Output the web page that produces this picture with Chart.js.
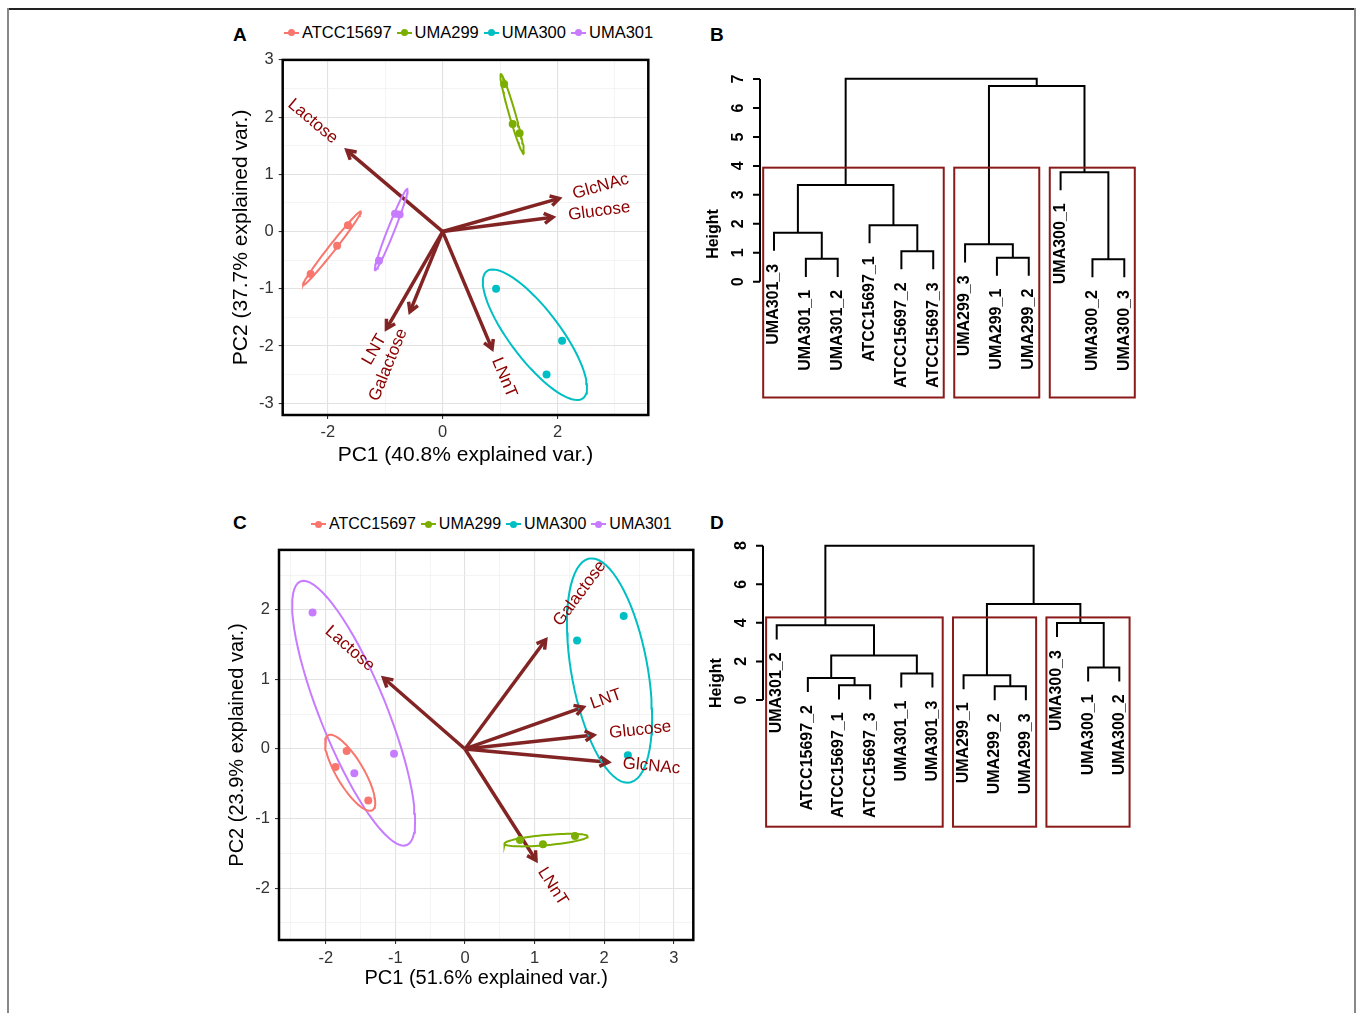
<!DOCTYPE html>
<html>
<head>
<meta charset="utf-8">
<script src="https://cdn.jsdelivr.net/npm/chart.js@4.4.1/dist/chart.umd.min.js"></script>
<style>
  body { margin: 0; background: #fff; font-family: "Liberation Sans", Arial, sans-serif; }
  #page { position: relative; width: 1360px; height: 1013px; overflow: hidden; background: #fff; }
  #page canvas { position: absolute; }
  .frame-top { position: absolute; left: 8px; top: 8px; width: 1347px; height: 1.5px; background: #222; }
  .frame-side { position: absolute; top: 8px; width: 1.5px; height: 1010px; background: #888; }
  .tag { position: absolute; font-weight: bold; font-size: 19px; color: #000; }
  .legend { position: absolute; display: flex; align-items: center; color: #000; white-space: nowrap; }
  .legend .key { display: inline-block; position: relative; width: 15px; height: 16px; margin-right: 3px; }
  .legend .key::before { content: ''; position: absolute; left: 0; right: 0; top: 7px; height: 2px; background: var(--c); }
  .legend .key::after { content: ''; position: absolute; left: 4px; top: 4.5px; width: 7px; height: 7px; border-radius: 50%; background: var(--c); }
  .legend .name { margin-right: 5px; }
</style>
</head>
<body>
<div id="page">
  <div class="frame-top"></div>
  <div class="frame-side" style="left:7px"></div>
  <div class="frame-side" style="left:1354px"></div>

  <div class="tag" style="left:233px;top:24px">A</div>
  <div class="tag" style="left:710px;top:24px">B</div>
  <div class="tag" style="left:233px;top:512px">C</div>
  <div class="tag" style="left:710px;top:512px">D</div>

  <div class="legend" id="legendA" style="left:284px;top:23px;font-size:16.5px"></div>
  <div class="legend" id="legendC" style="left:311px;top:515px;font-size:16px"></div>

  <canvas id="chartA" width="436" height="435" style="left:222px;top:45px"></canvas>
  <canvas id="chartB" width="450" height="350" style="left:700px;top:60px"></canvas>
  <canvas id="chartC" width="485" height="470" style="left:218px;top:535px"></canvas>
  <canvas id="chartD" width="450" height="310" style="left:700px;top:530px"></canvas>
</div>

<script>
// --- data ---
const groupNames = ['ATCC15697', 'UMA299', 'UMA300', 'UMA301'];
const groupColors = ['#F8766D', '#7CAE00', '#00BFC4', '#C77CFF'];
const varNames = ['Lactose', 'GlcNAc', 'Glucose', 'LNT', 'Galactose', 'LNnT'];

// panel A: PCA scores (PC1, PC2) per strain
const scoresA_ATCC15697 = [[-2.30, -0.74], [-1.84, -0.25], [-1.65, 0.11]];
const scoresA_UMA299 = [[1.07, 2.58], [1.22, 1.88], [1.34, 1.72]];
const scoresA_UMA300 = [[0.93, -1.00], [2.08, -1.91], [1.81, -2.50]];
const scoresA_UMA301 = [[-1.11, -0.51], [-0.83, 0.31], [-0.75, 0.30]];
// panel A: loadings, same order as varNames
const loadingsA_x = [-1.67, 2.03, 1.92, -0.98, -0.57, 0.86];
const loadingsA_y = [1.42, 0.58, 0.25, -1.70, -1.40, -2.05];
const xTicksA = [-2, 0, 2];
const yTicksA = [-3, -2, -1, 0, 1, 2, 3];

// panel C
const scoresC_ATCC15697 = [[-1.70, -0.03], [-1.86, -0.26], [-1.39, -0.74]];
const scoresC_UMA299 = [[0.79, -1.31], [1.12, -1.37], [1.58, -1.25]];
const scoresC_UMA300 = [[1.61, 1.56], [2.28, 1.91], [2.34, -0.09]];
const scoresC_UMA301 = [[-2.19, 1.96], [-1.59, -0.35], [-1.02, -0.07]];
const loadingsC_x = [-1.17, 2.06, 1.85, 1.70, 1.16, 1.02];
const loadingsC_y = [1.02, -0.19, 0.20, 0.60, 1.57, -1.60];
const xTicksC = [-2, -1, 0, 1, 2, 3];
const yTicksC = [-2, -1, 0, 1, 2];

// panel B: dendrogram (leaf order left to right, merges like R hclust: -n = leaf n, +n = merge n)
const leavesB = ['UMA301_3', 'UMA301_1', 'UMA301_2', 'ATCC15697_1', 'ATCC15697_2', 'ATCC15697_3',
                 'UMA299_3', 'UMA299_1', 'UMA299_2', 'UMA300_1', 'UMA300_2', 'UMA300_3'];
const mergeB = [[-2, -3], [-1, 1], [-5, -6], [-4, 3], [2, 4], [-8, -9], [-7, 6], [-11, -12], [-10, 8], [7, 9], [5, 10]];
const heightB = [0.79, 1.69, 1.05, 1.95, 3.34, 0.83, 1.29, 0.78, 3.78, 6.76, 7.01];
const clustersB = [[1, 6], [7, 9], [10, 12]];
const boxTopB = 3.94;
const yTicksB = [0, 1, 2, 3, 4, 5, 6, 7];

// panel D
const leavesD = ['UMA301_2', 'ATCC15697_2', 'ATCC15697_1', 'ATCC15697_3', 'UMA301_1', 'UMA301_3',
                 'UMA299_1', 'UMA299_2', 'UMA299_3', 'UMA300_3', 'UMA300_1', 'UMA300_2'];
const mergeD = [[-3, -4], [-2, 1], [-5, -6], [2, 3], [-1, 4], [-8, -9], [-7, 6], [-11, -12], [-10, 8], [7, 9], [5, 10]];
const heightD = [0.76, 1.14, 1.37, 2.30, 3.87, 0.71, 1.28, 1.69, 3.99, 4.98, 8.00];
const clustersD = [[1, 6], [7, 9], [10, 12]];
const boxTopD = 4.28;
const yTicksD = [0, 2, 4, 6, 8];

// --- common ---
const FONT = '"Liberation Sans", Arial, sans-serif';
Chart.defaults.font.family = FONT;
const arrowColor = '#832424';
const labelColor = '#8B0000';
const boxColor = '#8B1A1A';

function buildLegend(id) {
    const el = document.getElementById(id);
    el.innerHTML = groupNames.map((g, i) =>
        `<span class="key" style="--c:${groupColors[i]}"></span><span class="name">${g}</span>`).join('');
}
buildLegend('legendA');
buildLegend('legendC');

// normal-data ellipse like ggbiplot (prob 0.68)
const ELLIPSE_R = Math.sqrt(-2 * Math.log(1 - 0.68));
function ellipsePath(pts) {
    const n = pts.length;
    const mx = pts.reduce((s, p) => s + p[0], 0) / n;
    const my = pts.reduce((s, p) => s + p[1], 0) / n;
    let sxx = 0, syy = 0, sxy = 0;
    pts.forEach(p => {
        sxx += (p[0] - mx) ** 2; syy += (p[1] - my) ** 2; sxy += (p[0] - mx) * (p[1] - my);
    });
    sxx /= n - 1; syy /= n - 1; sxy /= n - 1;
    const a = Math.sqrt(sxx), b = sxy / a, c = Math.sqrt(Math.max(syy - b * b, 0));
    const out = [];
    for (let k = 0; k <= 72; k++) {
        const t = 2 * Math.PI * k / 72;
        out.push({ x: mx + ELLIPSE_R * Math.cos(t) * a, y: my + ELLIPSE_R * (Math.cos(t) * b + Math.sin(t) * c) });
    }
    return out;
}

function withMinor(major, lo, hi) {
    const step = major[1] - major[0];
    const all = [major[0] - step / 2];
    major.forEach(v => { all.push(v); all.push(v + step / 2); });
    return all.filter(v => v >= lo - 1e-9 && v <= hi + 1e-9);
}

const biplotPlugin = {
    id: 'biplot',
    afterDatasetsDraw(chart, args, o) {
        const { ctx, chartArea: ca, scales: { x, y } } = chart;
        const x0 = x.getPixelForValue(0), y0 = y.getPixelForValue(0);
        ctx.save();
        // arrow heads
        ctx.strokeStyle = arrowColor;
        ctx.lineWidth = 3.5;
        ctx.lineJoin = 'miter';
        o.lx.forEach((vx, i) => {
            const x1 = x.getPixelForValue(vx), y1 = y.getPixelForValue(o.ly[i]);
            const ang = Math.atan2(y1 - y0, x1 - x0);
            const L = 10, w = Math.PI / 6;
            ctx.beginPath();
            ctx.moveTo(x1 - L * Math.cos(ang - w), y1 - L * Math.sin(ang - w));
            ctx.lineTo(x1, y1);
            ctx.lineTo(x1 - L * Math.cos(ang + w), y1 - L * Math.sin(ang + w));
            ctx.stroke();
        });
        // variable names, rotated along the arrow
        ctx.fillStyle = labelColor;
        ctx.font = '17px ' + FONT;
        ctx.textBaseline = 'middle';
        ctx.textAlign = 'left';
        o.lx.forEach((vx, i) => {
            const vy = o.ly[i];
            const px = x.getPixelForValue(vx), py = y.getPixelForValue(vy);
            const ang = Math.atan(vy / vx);
            const wText = ctx.measureText(varNames[i]).width;
            const hjust = (1 - 1.5 * Math.sign(vx)) / 2;
            ctx.save();
            ctx.translate(px, py);
            ctx.rotate(-ang);
            ctx.fillText(varNames[i], -hjust * wText, 0);
            ctx.restore();
        });
        // panel border
        ctx.strokeStyle = '#000';
        ctx.lineWidth = 2.5;
        ctx.strokeRect(ca.left, ca.top, ca.width, ca.height);
        ctx.restore();
    }
};

function makeBiplot(id, scores, lx, ly, xr, yr, xTicks, yTicks, xTitle, yTitle, lay) {
    const datasets = [];
    lx.forEach((vx, i) => {
        datasets.push({
            data: [{ x: 0, y: 0 }, { x: vx, y: ly[i] }], showLine: true, pointRadius: 0,
            borderColor: arrowColor, borderWidth: 3.5, order: 3
        });
    });
    scores.forEach((pts, g) => {
        datasets.push({
            label: groupNames[g], data: pts.map(p => ({ x: p[0], y: p[1] })),
            pointRadius: 4, pointBorderWidth: 0, backgroundColor: groupColors[g], borderColor: groupColors[g], order: 2
        });
        datasets.push({
            data: ellipsePath(pts), showLine: true, pointRadius: 0,
            borderColor: groupColors[g], borderWidth: 2, order: 1
        });
    });
    const isMajor = (list, v) => list.some(m => Math.abs(m - v) < 1e-9);
    const gridCfg = list => ({
        color: c => isMajor(list, c.tick.value) ? '#e2e2e2' : '#efefef',
        lineWidth: c => isMajor(list, c.tick.value) ? 1.1 : 0.7,
        tickColor: c => isMajor(list, c.tick.value) ? '#333' : 'rgba(0,0,0,0)',
        tickLength: 4, drawTicks: true
    });
    return new Chart(document.getElementById(id), {
        type: 'scatter',
        data: { datasets },
        options: {
            responsive: false, animation: false, events: [],
            layout: { padding: lay.padding },
            plugins: { legend: { display: false }, tooltip: { enabled: false }, biplot: { lx, ly } },
            scales: {
                x: {
                    type: 'linear', min: xr[0], max: xr[1],
                    afterBuildTicks: s => { s.ticks = withMinor(xTicks, xr[0], xr[1]).map(v => ({ value: v })); },
                    afterFit: s => { s.height = lay.xh; },
                    ticks: { autoSkip: false, maxRotation: 0, padding: lay.xtp, color: '#333', font: { size: 16.5 },
                             callback: v => isMajor(xTicks, v) ? String(v) : '' },
                    grid: gridCfg(xTicks),
                    border: { display: false },
                    title: { display: true, text: xTitle, color: '#000', font: { size: lay.tsize }, padding: { top: 0, bottom: lay.xtitle } }
                },
                y: {
                    type: 'linear', min: yr[0], max: yr[1],
                    afterBuildTicks: s => { s.ticks = withMinor(yTicks, yr[0], yr[1]).map(v => ({ value: v })); },
                    afterFit: s => { s.width = lay.yw; },
                    ticks: { autoSkip: false, padding: 5, color: '#333', font: { size: 16.5 },
                             callback: v => isMajor(yTicks, v) ? String(v) : '' },
                    grid: gridCfg(yTicks),
                    border: { display: false },
                    title: { display: true, text: yTitle, color: '#000', font: { size: lay.tsize }, padding: { top: lay.ytitle, bottom: 0 } }
                }
            }
        },
        plugins: [biplotPlugin]
    });
}

makeBiplot('chartA',
    [scoresA_ATCC15697, scoresA_UMA299, scoresA_UMA300, scoresA_UMA301],
    loadingsA_x, loadingsA_y, [-2.787, 3.582], [-3.206, 3.0], xTicksA, yTicksA,
    'PC1 (40.8% explained var.)', 'PC2 (37.7% explained var.)',
    { padding: { top: 8.7, right: 9.7, left: 0, bottom: 0 }, xh: 65, yw: 60.7, xtp: 4, tsize: 21, xtitle: 12.4, ytitle: 6.4 });

makeBiplot('chartC',
    [scoresC_ATCC15697, scoresC_UMA299, scoresC_UMA300, scoresC_UMA301],
    loadingsC_x, loadingsC_y, [-2.672, 3.28], [-2.746, 2.861], xTicksC, yTicksC,
    'PC1 (51.6% explained var.)', 'PC2 (23.9% explained var.)',
    { padding: { top: 9.3, right: 9.7, left: 0, bottom: 0 }, xh: 65, yw: 61, xtp: 5, tsize: 20, xtitle: 14.7, ytitle: 7.5 });

// --- dendrograms ---
function buildDendro(merge, heights) {
    const hang = 0.1 * (Math.max(...heights) - Math.min(...heights));
    const nodeX = [];
    const leafBottom = [];
    const segs = [];
    merge.forEach((pair, i) => {
        const h = heights[i];
        const ends = pair.map(c => {
            if (c < 0) {
                leafBottom[-c - 1] = h - hang;
                return { x: -c, y: h - hang };
            }
            return { x: nodeX[c - 1], y: heights[c - 1] };
        });
        nodeX[i] = (ends[0].x + ends[1].x) / 2;
        segs.push([{ x: ends[0].x, y: ends[0].y }, { x: ends[0].x, y: h }, { x: ends[1].x, y: h }, { x: ends[1].x, y: ends[1].y }]);
    });
    return { segs, leafBottom };
}

const dendroPlugin = {
    id: 'dendro',
    afterDatasetsDraw(chart, args, o) {
        const { ctx, chartArea: ca, scales: { x, y } } = chart;
        ctx.save();
        // cluster boxes (rect.hclust)
        ctx.strokeStyle = boxColor;
        ctx.lineWidth = 2;
        o.clusters.forEach((cl, i) => {
            const prevEnd = i === 0 ? 0 : o.clusters[i - 1][1];
            const l = x.getPixelForValue(prevEnd + 0.66), r = x.getPixelForValue(cl[1] + 0.33);
            const t = y.getPixelForValue(o.boxTop);
            ctx.strokeRect(l, t, r - l, ca.bottom - t);
        });
        // axis
        const ax = ca.left;
        ctx.strokeStyle = '#000';
        ctx.lineWidth = 2;
        ctx.beginPath();
        ctx.moveTo(ax, y.getPixelForValue(o.ticks[0]));
        ctx.lineTo(ax, y.getPixelForValue(o.ticks[o.ticks.length - 1]));
        o.ticks.forEach(v => {
            const py = y.getPixelForValue(v);
            ctx.moveTo(ax, py);
            ctx.lineTo(ax - 7, py);
        });
        ctx.stroke();
        ctx.fillStyle = '#000';
        ctx.font = 'bold 16px ' + FONT;
        ctx.textAlign = 'center';
        ctx.textBaseline = 'middle';
        o.ticks.forEach(v => {
            ctx.save();
            ctx.translate(ax - 21, y.getPixelForValue(v));
            ctx.rotate(-Math.PI / 2);
            ctx.fillText(String(v), 0, 0);
            ctx.restore();
        });
        ctx.save();
        ctx.translate(ax - 46, (ca.top + ca.bottom) / 2);
        ctx.rotate(-Math.PI / 2);
        ctx.fillText('Height', 0, 0);
        ctx.restore();
        // leaf labels
        ctx.textAlign = 'right';
        o.leaves.forEach((name, i) => {
            ctx.save();
            ctx.translate(x.getPixelForValue(i + 1), y.getPixelForValue(o.leafBottom[i]) + 13);
            ctx.rotate(-Math.PI / 2);
            ctx.fillText(name, 0, 0);
            ctx.restore();
        });
        ctx.restore();
    }
};

function makeDendro(id, leaves, merge, heights, clusters, boxTop, ticks, yr, padding) {
    const tree = buildDendro(merge, heights);
    return new Chart(document.getElementById(id), {
        type: 'scatter',
        data: {
            datasets: tree.segs.map(s => ({
                data: s, showLine: true, pointRadius: 0, borderColor: '#000', borderWidth: 2
            }))
        },
        options: {
            responsive: false, animation: false, events: [],
            layout: { padding },
            plugins: {
                legend: { display: false }, tooltip: { enabled: false },
                dendro: { leaves, leafBottom: tree.leafBottom, clusters, boxTop, ticks }
            },
            scales: {
                x: { type: 'linear', display: false, min: 0.56, max: leaves.length + 0.44 },
                y: { type: 'linear', display: false, min: yr[0], max: yr[1] }
            }
        },
        plugins: [dendroPlugin]
    });
}

makeDendro('chartB', leavesB, mergeB, heightB, clustersB, boxTopB, yTicksB, [-4.0, 7.3],
    { left: 60, right: 11.7, top: 10.4, bottom: 12.5 });
makeDendro('chartD', leavesD, mergeD, heightD, clustersD, boxTopD, yTicksD, [-6.57, 8.32],
    { left: 63, right: 17, top: 9.5, bottom: 13.3 });
</script>
</body>
</html>
